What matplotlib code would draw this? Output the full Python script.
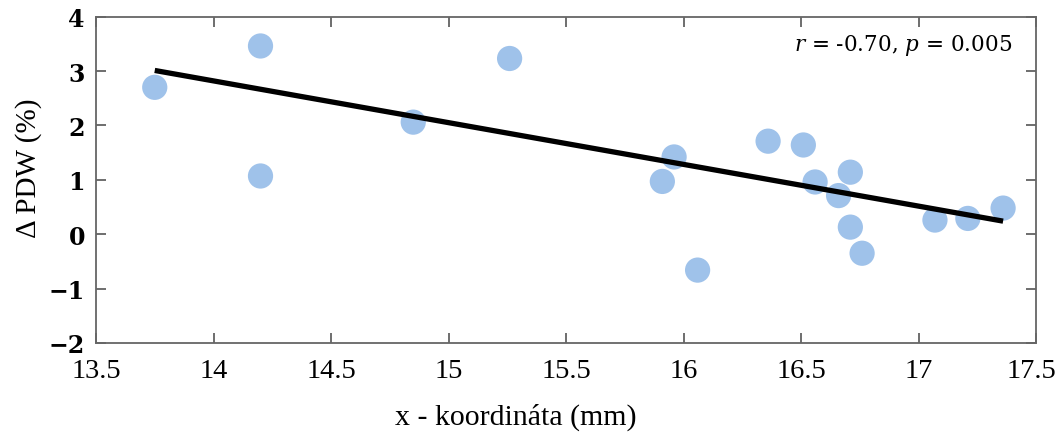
import matplotlib
matplotlib.use("Agg")
import matplotlib.pyplot as plt
import matplotlib.transforms as mtransforms
import numpy as np

# data
x_mm = [13.75, 14.20, 14.20, 14.85, 15.26, 15.91, 15.96, 16.06, 16.36,
        16.51, 16.56, 16.66, 16.71, 16.71, 16.76, 17.07, 17.21, 17.36]
d_pdw = [2.70, 3.46, 1.07, 2.06, 3.23, 0.97, 1.42, -0.66, 1.71,
         1.64, 0.96, 0.71, 1.14, 0.13, -0.35, 0.26, 0.29, 0.48]
fit_x = [13.75, 17.36]
fit_y = [3.01, 0.24]
x_ticks = [13.5, 14, 14.5, 15, 15.5, 16, 16.5, 17, 17.5]
x_labels = ["13.5", "14", "14.5", "15", "15.5", "16", "16.5", "17", "17.5"]
y_ticks = [-2, -1, 0, 1, 2, 3, 4]
y_labels = ["\u22122", "\u22121", "0", "1", "2", "3", "4"]

plt.rcParams['mathtext.fontset'] = 'dejavuserif'

fig = plt.figure(figsize=(10.56, 4.39), dpi=100)
ax = fig.add_axes([96/1056, 1 - 344/439, 940/1056, (344 - 17.6)/439])

ax.scatter(x_mm, d_pdw, s=330, color="#9fc2ea", edgecolors="none", zorder=2)
ax.plot(fit_x, fit_y, color="black", lw=3.8, solid_capstyle="butt", zorder=3)

ax.set_xlim(13.5, 17.5)
ax.set_ylim(-2, 4)
ax.set_xticks(x_ticks)
ax.set_xticklabels(x_labels, family="Liberation Serif", fontsize=20.5)
ax.set_yticks(y_ticks)
ax.set_yticklabels(y_labels, family="DejaVu Serif", fontsize=17, fontweight="bold")

ax.tick_params(direction="in", length=7, width=1.2, color="#555555",
               top=True, right=True)
ax.tick_params(axis="x", pad=11)
ax.tick_params(axis="y", pad=8)
for sp in ax.spines.values():
    sp.set_color("#666666")
    sp.set_linewidth(1.3)

# keep the last tick label inside the figure edge
last = ax.get_xticklabels()[-1]
last.set_transform(last.get_transform() +
                   mtransforms.ScaledTranslation(-5/100, 0, fig.dpi_scale_trans))

ax.set_xlabel("x - koordináta (mm)", family="Liberation Serif", fontsize=21.5)
ax.xaxis.set_label_coords((516 - 96) / 940, (344 - 404) / 326.4)
ax.set_ylabel("\u0394 PDW (%)", family="Liberation Serif", fontsize=21)
ax.yaxis.set_label_coords((42 - 96) / 940, (344 - 168) / 326.4)

ax.text(0.975, 0.915, r"$r$ = -0.70, $p$ = 0.005", transform=ax.transAxes,
        ha="right", va="center", family="DejaVu Serif", fontsize=15.5)

fig.savefig("out.png", dpi=100)
